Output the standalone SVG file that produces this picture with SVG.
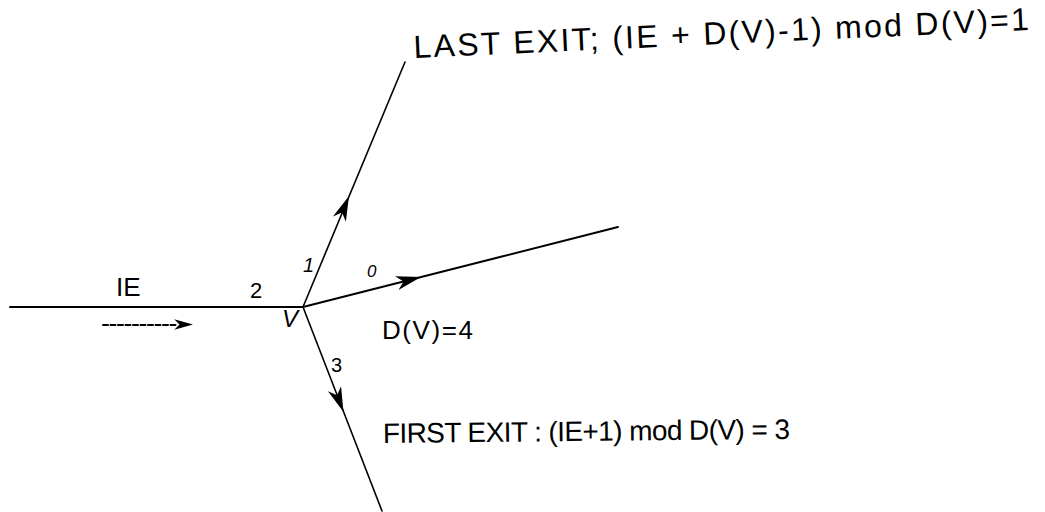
<svg xmlns="http://www.w3.org/2000/svg" width="1045" height="512" viewBox="0 0 1045 512">
<style>
.edge{stroke:#000;stroke-width:2;fill:none;stroke-linecap:round}
.thin{stroke-width:1.6}
.lbl{font-family:"Liberation Sans",Arial,sans-serif;fill:#000}
.ital{font-style:italic}
</style>
<defs>
<path id="ah" d="M0,0 L-25,-7 L-18,0 L-25,7 Z" fill="#000"/>
</defs>
<rect width="1045" height="512" fill="#fff"/>
<g id="connectors">
<line class="edge" x1="10" y1="307" x2="303" y2="307"/>
<line class="edge thin" x1="303" y1="307" x2="405" y2="62"/>
<line class="edge" x1="303" y1="307" x2="618" y2="227"/>
<line class="edge thin" x1="303" y1="307" x2="382" y2="511"/>
<use href="#ah" transform="translate(349,196) rotate(-67.4)"/>
<use href="#ah" transform="translate(421,277) rotate(-14.25)"/>
<use href="#ah" transform="translate(343.5,412) rotate(68.9)"/>
<line class="edge" x1="103" y1="325" x2="178" y2="325" stroke-dasharray="5,2.5" stroke-width="1.6"/>
<use href="#ah" transform="translate(193,324.5) scale(0.75)"/>
</g>
<g id="vertex-V">
<text class="lbl ital" x="282" y="327" font-size="24">V</text>
</g>
<g id="edge-labels">
<text class="lbl" x="116" y="296" font-size="26">IE</text>
<text class="lbl" x="250" y="298" font-size="22">2</text>
<text class="lbl ital" x="303" y="272" font-size="20">1</text>
<text class="lbl ital" x="367" y="277" font-size="17">0</text>
<text class="lbl" x="331" y="372" font-size="20">3</text>
<text class="lbl" x="382" y="339" font-size="26" textLength="91">D(V)=4</text>
</g>
<g id="last-exit">
<text class="lbl" x="414" y="58" font-size="32" textLength="616" transform="rotate(-2.6 414 58)">LAST EXIT; (IE + D(V)-1) mod D(V)=1</text>
</g>
<g id="first-exit">
<text class="lbl" x="383" y="443" font-size="28" textLength="407" transform="rotate(-0.6 383 443)">FIRST EXIT : (IE+1) mod D(V) = 3</text>
</g>
</svg>
